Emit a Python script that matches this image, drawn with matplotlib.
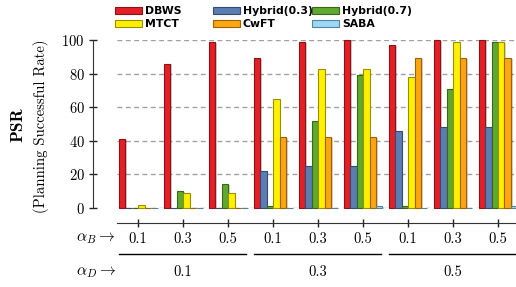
import matplotlib

matplotlib.use("Agg")
import matplotlib.pyplot as plt
import matplotlib.colors as mcolors
import matplotlib.patheffects as pe
import matplotlib.transforms as mtransforms
import numpy as np

plt.rcParams["font.family"] = "serif"
plt.rcParams["font.serif"] = ["cmr10"]
plt.rcParams["mathtext.fontset"] = "cm"
plt.rcParams["axes.formatter.use_mathtext"] = True

# Datos: 9 combinaciones (alpha_D x alpha_B), 6 metodos
alpha_b = ["0.1", "0.3", "0.5"] * 3
alpha_d = ["0.1", "0.3", "0.5"]
metodos = ["DBWS", "Hybrid(0.3)", "Hybrid(0.7)", "MTCT", "CwFT", "SABA"]
colores = ["#e41f26", "#5b7db3", "#5faa2e", "#fff000", "#ffa50f", "#9ad8f8"]

dbws = [41, 86, 99, 89, 99, 100, 97, 100, 100]
hybrid03 = [0, 0, 0, 22, 25, 25, 46, 48, 48]
hybrid07 = [0, 10, 14, 1, 52, 79, 1, 71, 99]
mtct = [2, 9, 9, 65, 83, 83, 78, 99, 99]
cwft = [0, 0, 0, 42, 42, 42, 89, 89, 89]
saba = [0, 0, 0, 0, 0, 1, 0, 0, 1]
valores = [dbws, hybrid03, hybrid07, mtct, cwft, saba]

W, H = 516, 287
fig = plt.figure(figsize=(W / 100, H / 100), dpi=100)


def fx(px):
    return px / W


def fy(py):
    return 1 - py / H


ax = fig.add_axes([fx(117), fy(208), fx(516) - fx(117), fy(40) - fy(208)])

x = np.arange(len(alpha_b))
ancho = 0.1444
barras = []
for i, (nombre, vals, col) in enumerate(zip(metodos, valores, colores)):
    borde = tuple(c * 0.6 for c in mcolors.to_rgb(col))
    b = ax.bar(x + (i - 2.5) * ancho, vals, ancho, color=col, edgecolor=borde,
               linewidth=0.8, label=nombre, clip_on=False, zorder=3)
    for p in b:
        p.set_path_effects([pe.SimplePatchShadow(offset=(1.2, -0.6), alpha=0.22), pe.Normal()])
    barras.append(b)

ax.set_xlim(-0.467, 8.4)
ax.set_ylim(0, 100)
ax.set_yticks([0, 20, 40, 60, 80, 100])
ax.set_xticks(x)
ax.set_xticklabels(alpha_b)
ax.yaxis.grid(True, color="#a0a0a0", linestyle=(0, (3.5, 2.5)), linewidth=1.0)
ax.set_axisbelow(True)

for lado in ["top", "right"]:
    ax.spines[lado].set_visible(False)
ax.spines["left"].set_position(("outward", 17.3))
ax.spines["bottom"].set_position(("outward", 10.8))
ax.spines["left"].set_color("#333333")
ax.spines["bottom"].set_color("#333333")
ax.tick_params(axis="both", direction="inout", length=6, width=1.0, color="#222222",
               labelsize=10.5, pad=3)
ax.tick_params(axis="x", pad=4)

# Etiquetas del eje y
fig.text(fx(18), fy(125), "PSR", rotation=90, ha="center", va="center",
         fontsize=12.5, fontfamily="cmb10")
fig.text(fx(41), fy(126), "(Planning Successful Rate)", rotation=90, ha="center",
         va="center", fontsize=10.6)

# alpha_B y alpha_D
fig.text(fx(116), fy(238), r"$\alpha_B \rightarrow$", ha="right", va="center", fontsize=11.5)
fig.text(fx(116), fy(272), r"$\alpha_D \rightarrow$", ha="right", va="center", fontsize=11.5)

trans = mtransforms.blended_transform_factory(ax.transData, fig.transFigure)
for g, etiqueta in enumerate(alpha_d):
    ax.plot([3 * g - 0.43, 3 * g + 2.39], [fy(254), fy(254)], color="black",
            linewidth=1.0, transform=trans, clip_on=False)
    ax.text(3 * g + 1, fy(272), etiqueta, transform=trans, ha="center", va="center",
            fontsize=10.5)

# Leyenda en tres columnas separadas
columnas = [[0, 3], [1, 4], [2, 5]]
x_cols = [115, 213, 312]
for cols, xc in zip(columnas, x_cols):
    leg = fig.legend([barras[k] for k in cols], [metodos[k] for k in cols],
                     loc="upper left", bbox_to_anchor=(fx(xc), fy(6)),
                     frameon=False, borderpad=0, borderaxespad=0,
                     handlelength=2.45, handleheight=0.65, handletextpad=0.3,
                     labelspacing=0.32, prop={"family": "DejaVu Sans", "weight": "bold", "size": 7.8})

fig.savefig("out.png", dpi=100)
